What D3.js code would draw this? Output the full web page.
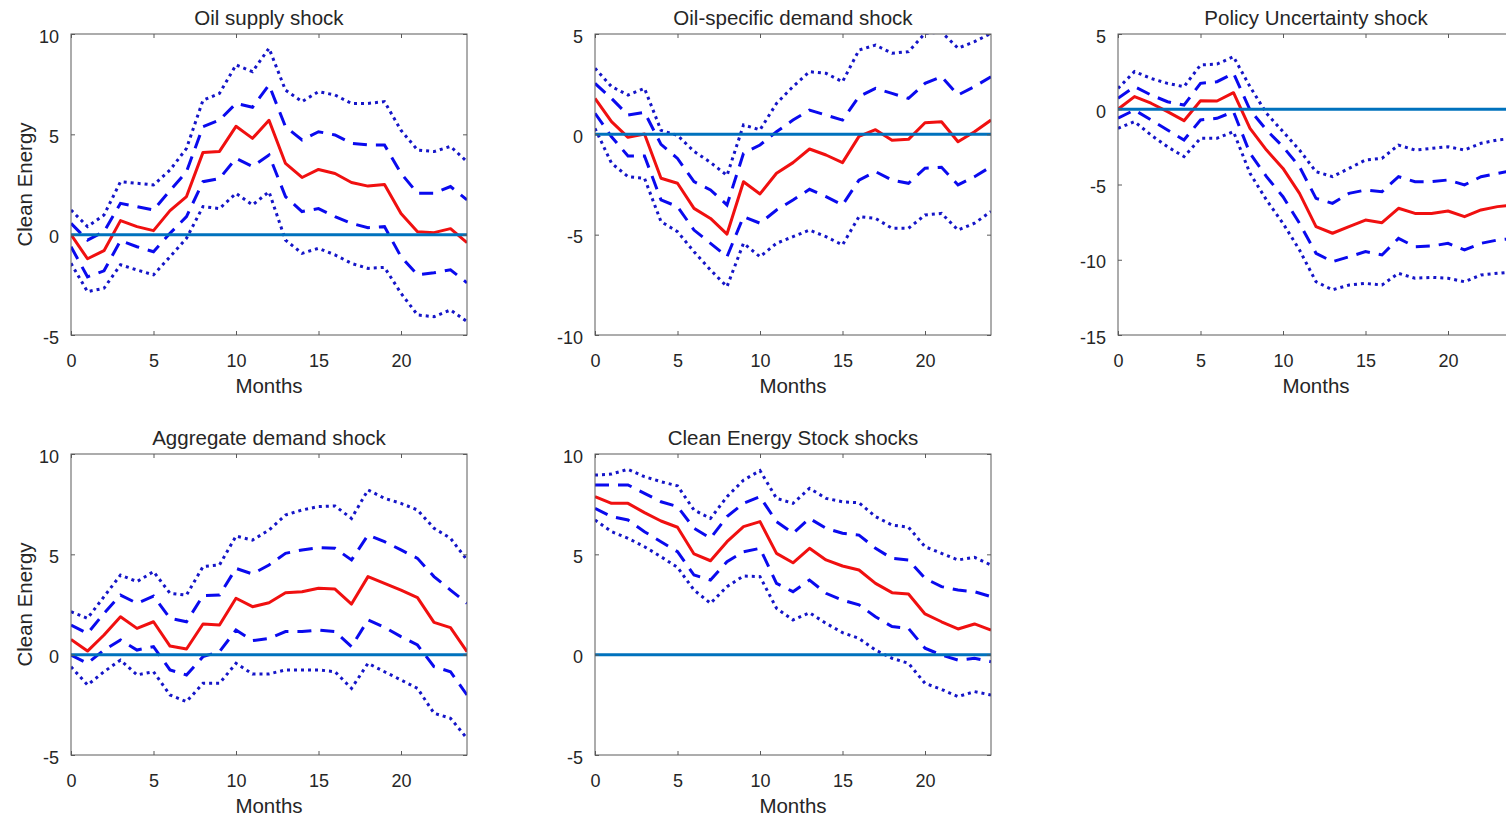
<!DOCTYPE html>
<html>
<head>
<meta charset="utf-8">
<style>
    body, html {
        margin: 0;
        padding: 0;
        background: #fff;
    }
    svg {
        display: block;
        font-family: "Liberation Sans", Arial, sans-serif;
    }
</style>
</head>
<body>
<svg width="1506" height="819"></svg>

<script src="https://d3js.org/d3.v7.min.js"></script>
<script>
    // horizon, months
    var months = [0, 1, 2, 3, 4, 5, 6, 7, 8, 9, 10, 11, 12, 13, 14, 15, 16, 17, 18, 19, 20, 21, 22, 23, 24];

    var titles = ["Oil supply shock", "Oil-specific demand shock", "Policy Uncertainty shock",
                  "Aggregate demand shock", "Clean Energy Stock shocks"];
    var xTicks = [0, 5, 10, 15, 20];
    var yTicks = [[-5, 0, 5, 10], [-10, -5, 0, 5], [-15, -10, -5, 0, 5], [-5, 0, 5, 10], [-5, 0, 5, 10]];

    // Oil supply shock
    var oilSupplyMed  = [0, -1.2, -0.8, 0.7, 0.4, 0.2, 1.2, 1.9, 4.1, 4.15, 5.4, 4.8, 5.7, 3.55, 2.85, 3.25, 3.05, 2.6, 2.42, 2.5, 1.05, 0.15, 0.1, 0.3, -0.4];
    var oilSupplyUp1  = [0.56, -0.27, 0.15, 1.56, 1.4, 1.23, 2.2, 3.14, 5.38, 5.71, 6.54, 6.35, 7.46, 5.38, 4.72, 5.13, 4.97, 4.55, 4.47, 4.47, 3.06, 2.06, 2.06, 2.4, 1.73];
    var oilSupplyLo1  = [-0.6, -2.1, -1.8, -0.3, -0.6, -0.85, 0.07, 0.9, 2.64, 2.8, 3.8, 3.4, 3.97, 1.9, 1.15, 1.3, 0.9, 0.56, 0.35, 0.4, -1.1, -2.0, -1.9, -1.75, -2.4];
    var oilSupplyUp2  = [1.23, 0.4, 0.98, 2.64, 2.56, 2.48, 3.22, 4.3, 6.7, 7.04, 8.46, 8.12, 9.29, 7.2, 6.63, 7.13, 6.96, 6.54, 6.54, 6.63, 5.2, 4.22, 4.14, 4.4, 3.64];
    var oilSupplyLo2  = [-1.43, -2.84, -2.67, -1.5, -1.76, -2.0, -1.1, -0.18, 1.4, 1.3, 2.06, 1.48, 2.14, -0.27, -0.93, -0.68, -1.01, -1.43, -1.68, -1.63, -2.92, -4.0, -4.09, -3.75, -4.33];

    // Oil-specific demand shock
    var oilDemandMed  = [1.79, 0.63, -0.15, 0.02, -2.19, -2.44, -3.69, -4.19, -4.97, -2.36, -2.97, -1.94, -1.41, -0.73, -1.03, -1.41, -0.1, 0.23, -0.3, -0.25, 0.58, 0.63, -0.37, 0.13, 0.71];
    var oilDemandUp1  = [2.54, 1.79, 0.96, 1.1, -0.5, -1.2, -2.36, -2.77, -3.52, -0.95, -0.53, 0.13, 0.71, 1.21, 0.96, 0.71, 1.88, 2.29, 2.04, 1.79, 2.54, 2.87, 1.96, 2.38, 2.87];
    var oilDemandLo1  = [1.05, -0.12, -1.08, -1.08, -3.27, -3.6, -4.77, -5.43, -6.1, -4.1, -4.43, -3.77, -3.27, -2.74, -3.1, -3.52, -2.28, -1.86, -2.28, -2.44, -1.69, -1.64, -2.52, -2.11, -1.61];
    var oilDemandUp2  = [3.29, 2.38, 1.96, 2.29, 0.2, -0.05, -0.85, -1.4, -2.05, 0.47, 0.22, 1.54, 2.38, 3.12, 3.04, 2.62, 4.2, 4.45, 4.04, 4.12, 5.03, 5.1, 4.29, 4.62, 5.03];
    var oilDemandLo2  = [0.3, -1.44, -2.11, -2.19, -4.35, -4.85, -5.85, -6.76, -7.59, -5.43, -6.1, -5.43, -5.1, -4.77, -5.1, -5.51, -4.1, -4.19, -4.68, -4.68, -4.02, -3.94, -4.77, -4.43, -3.85];

    // Policy Uncertainty shock
    var policyMed     = [0, 0.84, 0.4, -0.16, -0.76, 0.57, 0.55, 1.1, -1.27, -2.71, -3.93, -5.59, -7.8, -8.24, -7.8, -7.36, -7.54, -6.58, -6.92, -6.92, -6.76, -7.14, -6.69, -6.47, -6.36];
    var policyUp1     = [0.73, 1.5, 0.95, 0.5, 0.28, 1.72, 1.83, 2.39, -0.05, -1.38, -2.49, -3.82, -5.92, -6.25, -5.59, -5.37, -5.48, -4.48, -4.81, -4.81, -4.7, -5.03, -4.48, -4.26, -4.04];
    var policyLo1     = [-0.6, -0.05, -0.71, -1.38, -2.04, -0.71, -0.6, -0.16, -2.93, -4.48, -5.81, -7.58, -9.57, -10.13, -9.8, -9.46, -9.68, -8.58, -9.13, -9.09, -8.91, -9.35, -8.91, -8.69, -8.58];
    var policyUp2     = [1.39, 2.5, 2.05, 1.72, 1.5, 2.94, 3.0, 3.49, 1.5, -0.27, -1.49, -2.71, -4.15, -4.48, -3.93, -3.37, -3.26, -2.38, -2.71, -2.6, -2.49, -2.71, -2.26, -2.04, -1.93];
    var policyLo2     = [-1.27, -0.82, -1.71, -2.49, -3.15, -1.93, -1.93, -1.49, -4.26, -6.03, -7.58, -9.35, -11.46, -12.0, -11.68, -11.57, -11.68, -10.9, -11.23, -11.17, -11.23, -11.46, -11.01, -10.9, -10.8];

    // Aggregate demand shock
    var aggDemandMed  = [0.76, 0.18, 0.98, 1.89, 1.31, 1.64, 0.43, 0.28, 1.53, 1.48, 2.81, 2.39, 2.59, 3.09, 3.14, 3.31, 3.27, 2.52, 3.89, 3.55, 3.22, 2.84, 1.61, 1.35, 0.15];
    var aggDemandUp1  = [1.48, 1.06, 2.06, 2.97, 2.56, 2.92, 1.81, 1.64, 2.94, 2.97, 4.3, 4.02, 4.47, 5.05, 5.22, 5.33, 5.3, 4.72, 5.96, 5.63, 5.22, 4.8, 3.89, 3.22, 2.56];
    var aggDemandLo1  = [-0.02, -0.43, 0.23, 0.73, 0.23, 0.4, -0.76, -1.01, -0.1, 0.15, 1.23, 0.7, 0.81, 1.15, 1.15, 1.23, 1.15, 0.4, 1.73, 1.36, 0.9, 0.48, -0.6, -0.85, -2.01];
    var aggDemandUp2  = [2.14, 1.81, 2.89, 3.97, 3.64, 4.14, 3.06, 2.97, 4.39, 4.47, 5.91, 5.71, 6.21, 6.96, 7.21, 7.38, 7.41, 6.79, 8.21, 7.79, 7.54, 7.21, 6.3, 5.8, 4.72];
    var aggDemandLo2  = [-0.6, -1.51, -0.85, -0.27, -1.01, -0.85, -2.01, -2.34, -1.43, -1.43, -0.43, -0.96, -0.96, -0.76, -0.76, -0.76, -0.85, -1.68, -0.43, -0.85, -1.26, -1.68, -2.92, -3.17, -4.17];

    // Clean Energy Stock shocks
    var cleanMed      = [7.87, 7.54, 7.54, 7.08, 6.66, 6.35, 5.02, 4.68, 5.63, 6.38, 6.63, 5.05, 4.58, 5.3, 4.72, 4.42, 4.22, 3.55, 3.09, 3.02, 2.03, 1.64, 1.28, 1.53, 1.23];
    var cleanUp1      = [8.46, 8.46, 8.46, 8.04, 7.62, 7.38, 6.3, 5.8, 6.88, 7.54, 7.87, 6.63, 6.05, 6.79, 6.3, 6.05, 5.96, 5.3, 4.8, 4.72, 3.8, 3.39, 3.22, 3.14, 2.89];
    var cleanLo1      = [7.29, 6.88, 6.71, 6.13, 5.63, 5.13, 3.97, 3.72, 4.63, 5.13, 5.3, 3.55, 3.14, 3.72, 3.06, 2.72, 2.48, 1.89, 1.4, 1.31, 0.32, -0.02, -0.27, -0.18, -0.35];
    var cleanUp2      = [8.95, 9.0, 9.24, 8.87, 8.62, 8.41, 7.21, 6.79, 7.87, 8.7, 9.17, 7.79, 7.54, 8.29, 7.79, 7.62, 7.57, 6.88, 6.46, 6.35, 5.38, 5.05, 4.72, 4.85, 4.47];
    var cleanLo2      = [6.71, 6.13, 5.8, 5.38, 4.88, 4.35, 3.22, 2.56, 3.39, 3.92, 3.89, 2.31, 1.73, 2.09, 1.56, 1.1, 0.81, 0.23, -0.18, -0.43, -1.43, -1.73, -2.09, -1.84, -2.01];

    var panels = [
        { title: titles[0], ticks: yTicks[0], med: oilSupplyMed, up1: oilSupplyUp1, lo1: oilSupplyLo1, up2: oilSupplyUp2, lo2: oilSupplyLo2 },
        { title: titles[1], ticks: yTicks[1], med: oilDemandMed, up1: oilDemandUp1, lo1: oilDemandLo1, up2: oilDemandUp2, lo2: oilDemandLo2 },
        { title: titles[2], ticks: yTicks[2], med: policyMed, up1: policyUp1, lo1: policyLo1, up2: policyUp2, lo2: policyLo2 },
        { title: titles[3], ticks: yTicks[3], med: aggDemandMed, up1: aggDemandUp1, lo1: aggDemandLo1, up2: aggDemandUp2, lo2: aggDemandLo2 },
        { title: titles[4], ticks: yTicks[4], med: cleanMed, up1: cleanUp1, lo1: cleanLo1, up2: cleanUp2, lo2: cleanLo2 }
    ];

    var colX = [71, 595, 1118];
    var rowY = [34, 454];
    var w = 396, h = 301;
    var textColor = "#262626";
    var axisColor = "#5a5a5a";

    var svg = d3.select("svg");

    panels.forEach(function (p, i) {
        var ox = colX[i % 3], oy = rowY[Math.floor(i / 3)];
        var g = svg.append("g").attr("transform", "translate(" + ox + "," + oy + ")");

        var x = d3.scaleLinear().domain([0, 24]).range([0, w]);
        var y = d3.scaleLinear().domain(d3.extent(p.ticks)).range([h, 0]);

        g.append("clipPath").attr("id", "clip" + i)
            .append("rect").attr("width", w).attr("height", h);

        var line = d3.line()
            .x(function (d, k) { return x(months[k]); })
            .y(function (d) { return y(d); });

        var plot = g.append("g").attr("clip-path", "url(#clip" + i + ")");

        [p.up2, p.lo2].forEach(function (s) {
            plot.append("path").attr("d", line(s))
                .attr("fill", "none").attr("stroke", "#1515c8")
                .attr("stroke-width", 3).attr("stroke-dasharray", "3,4");
        });
        [p.up1, p.lo1].forEach(function (s) {
            plot.append("path").attr("d", line(s))
                .attr("fill", "none").attr("stroke", "#0a0aee")
                .attr("stroke-width", 3).attr("stroke-dasharray", "14,9");
        });
        plot.append("path").attr("d", line(p.med))
            .attr("fill", "none").attr("stroke", "#f01010")
            .attr("stroke-width", 3).attr("stroke-linejoin", "round");

        // zero line
        plot.append("line")
            .attr("x1", x(0)).attr("x2", x(24))
            .attr("y1", y(0)).attr("y2", y(0))
            .attr("stroke", "#0072BD").attr("stroke-width", 3);

        // box and ticks
        g.append("rect").attr("width", w).attr("height", h)
            .attr("fill", "none").attr("stroke", axisColor).attr("stroke-width", 1);

        var xa = g.append("g").attr("transform", "translate(0," + h + ")")
            .call(d3.axisBottom(x).tickValues(xTicks).tickSize(-4).tickPadding(19).tickFormat(String));
        var xt = g.append("g")
            .call(d3.axisTop(x).tickValues(xTicks).tickSize(-4).tickFormat(""));
        var ya = g.append("g")
            .call(d3.axisLeft(y).tickValues(p.ticks).tickSize(-4).tickPadding(12).tickFormat(String));
        var yr = g.append("g").attr("transform", "translate(" + w + ",0)")
            .call(d3.axisRight(y).tickValues(p.ticks).tickSize(-4).tickFormat(""));

        [xa, xt, ya, yr].forEach(function (a) {
            a.select(".domain").remove();
            a.selectAll(".tick line").attr("stroke", axisColor);
            a.selectAll("text").attr("fill", textColor)
                .style("font-size", "18px")
                .style("font-family", "'Liberation Sans', Arial, sans-serif");
        });
        ya.selectAll("text").attr("dy", "0.45em");

        // title
        g.append("text").attr("x", w / 2).attr("y", -9)
            .attr("text-anchor", "middle").attr("fill", textColor)
            .style("font-size", "20.5px").text(p.title);

        // x label
        g.append("text").attr("x", w / 2).attr("y", h + 58)
            .attr("text-anchor", "middle").attr("fill", textColor)
            .style("font-size", "20.5px").text("Months");

        if (i % 3 === 0) {
            g.append("text")
                .attr("transform", "translate(" + (-39) + "," + (h / 2) + ") rotate(-90)")
                .attr("text-anchor", "middle").attr("fill", textColor)
                .style("font-size", "20.5px").text("Clean Energy");
        }
    });
</script>
</body>
</html>
